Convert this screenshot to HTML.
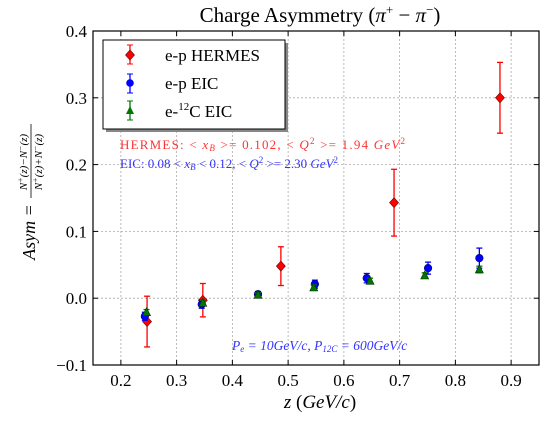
<!DOCTYPE html>
<html><head><meta charset="utf-8"><style>
body{margin:0;background:#fff;width:545px;height:419px;overflow:hidden}
text{font-family:"Liberation Serif",serif}
</style></head><body>
<svg id="c" width="545" height="419" xmlns="http://www.w3.org/2000/svg"></svg>
<script>
const xTicks=[0.2,0.3,0.4,0.5,0.6,0.7,0.8,0.9];
const yTicks=[-0.1,0.0,0.1,0.2,0.3,0.4];
const yTickLabels=["\u22120.1","0.0","0.1","0.2","0.3","0.4"];
const hermesX=[0.247,0.347,0.487,0.69,0.88];
const hermesY=[-0.035,-0.003,0.048,0.143,0.300];
const hermesErr=[0.038,0.025,0.029,0.05,0.053];
const eicX=[0.243,0.345,0.446,0.548,0.641,0.751,0.843];
const eicY=[-0.027,-0.009,0.006,0.021,0.030,0.045,0.060];
const eicErr=[0.006,0.006,0.004,0.006,0.007,0.009,0.015];
const ciX=[0.246,0.347,0.446,0.546,0.647,0.745,0.843];
const ciY=[-0.021,-0.007,0.005,0.016,0.026,0.034,0.043];
const ciErr=[0.004,0.004,0.003,0.004,0.004,0.004,0.005];
const L=93,R=539,T=31,B=365;
const X=v=>L+(v-0.15)/(0.8)*(R-L);
const Y=v=>B-(v+0.1)/0.5*(B-T);
const svg=document.getElementById('c');
const NS="http://www.w3.org/2000/svg";
function mk(tag,attrs,parent){const e=document.createElementNS(NS,tag);for(const k in attrs)e.setAttribute(k,attrs[k]);(parent||svg).appendChild(e);return e;}
xTicks.forEach(v=>{const g=mk('line',{x1:X(v),x2:X(v),y1:T,y2:B,stroke:'#aaa','stroke-dasharray':'2,2','stroke-width':0.8});


mk('line',{x1:X(v),x2:X(v),y1:B,y2:B-5,stroke:'#000'});mk('line',{x1:X(v),x2:X(v),y1:T,y2:T+5,stroke:'#000'});
const t=mk('text',{x:X(v),y:B+21,'text-anchor':'middle','font-size':17});t.textContent=v.toFixed(1);

});
yTicks.forEach((v,i)=>{const g=mk('line',{x1:L,x2:R,y1:Y(v),y2:Y(v),stroke:'#aaa','stroke-dasharray':'2,2','stroke-width':0.8});


mk('line',{x1:L,x2:L+5,y1:Y(v),y2:Y(v),stroke:'#000'});mk('line',{x1:R,x2:R-5,y1:Y(v),y2:Y(v),stroke:'#000'});
const t=mk('text',{x:L-6,y:Y(v)+6,'text-anchor':'end','font-size':17});t.textContent=yTickLabels[i];

});
const fr=mk('rect',{x:L,y:T,width:R-L,height:B-T,fill:'none',stroke:'#000','stroke-width':1.2});


function err(x,y,e,col,name){const g=mk('g',{});
mk('line',{x1:X(x),x2:X(x),y1:Y(y+e),y2:Y(y-e),stroke:col,'stroke-width':1.3},g);
[y+e,y-e].forEach(c=>mk('line',{x1:X(x)-3,x2:X(x)+3,y1:Y(c),y2:Y(c),stroke:col,'stroke-width':1.3},g));return g;}
hermesX.forEach((x,i)=>{const g=err(x,hermesY[i],hermesErr[i],'#f00','hermes-point');const cx=X(x),cy=Y(hermesY[i]);
mk('polygon',{points:`${cx},${cy-5} ${cx+4.5},${cy} ${cx},${cy+5} ${cx-4.5},${cy}`,fill:'#f00',stroke:'#600','stroke-width':0.6},g);});
eicX.forEach((x,i)=>{const g=err(x,eicY[i],eicErr[i],'#00f','eic-point');mk('circle',{cx:X(x),cy:Y(eicY[i]),r:3.8,fill:'#00f',stroke:'#006','stroke-width':0.6},g);});
ciX.forEach((x,i)=>{const g=err(x,ciY[i],ciErr[i],'#070','carbon-point');const cx=X(x),cy=Y(ciY[i]);
mk('polygon',{points:`${cx},${cy-4.5} ${cx+4},${cy+3.5} ${cx-4},${cy+3.5}`,fill:'#070',stroke:'#030','stroke-width':0.6},g);});
</script>
<svg width="545" height="419" style="position:absolute;left:0;top:0" xmlns="http://www.w3.org/2000/svg">
<text x="320" y="22" text-anchor="middle" font-size="21">Charge Asymmetry (<tspan font-style="italic">π</tspan><tspan font-size="13" dy="-8">+</tspan><tspan dy="8"> − </tspan><tspan font-style="italic">π</tspan><tspan font-size="13" dy="-8">−</tspan><tspan dy="8">)</tspan></text>
<g>
<rect x="106" y="43" width="182" height="89" fill="#888"/>
<rect x="103" y="40" width="182" height="89" fill="#fff" stroke="#000" stroke-width="1"/>
<line x1="130" y1="45" x2="130" y2="64" stroke="#f00" stroke-width="1.3"/><line x1="127" y1="45" x2="133" y2="45" stroke="#f00"/><line x1="127" y1="64" x2="133" y2="64" stroke="#f00"/>
<polygon points="130,50 134.5,55 130,60 125.5,55" fill="#f00" stroke="#600" stroke-width="0.6"/>
<text x="165" y="61" font-size="17">e-p HERMES</text>
<line x1="130" y1="74" x2="130" y2="93" stroke="#00f" stroke-width="1.3"/><line x1="127" y1="74" x2="133" y2="74" stroke="#00f"/><line x1="127" y1="93" x2="133" y2="93" stroke="#00f"/>
<circle cx="130" cy="83" r="3.8" fill="#00f"/>
<text x="165" y="89" font-size="17">e-p EIC</text>
<line x1="130" y1="101" x2="130" y2="120" stroke="#070" stroke-width="1.3"/><line x1="127" y1="101" x2="133" y2="101" stroke="#070"/><line x1="127" y1="120" x2="133" y2="120" stroke="#070"/>
<polygon points="130,106 134,114 126,114" fill="#070"/>
<text x="165" y="117" font-size="17">e-<tspan font-size="11" dy="-7">12</tspan><tspan dy="7">C EIC</tspan></text>
</g>
<text x="120" y="149" font-size="13" fill="#f33" textLength="285">HERMES: &lt; <tspan font-style="italic">x<tspan font-size="9" dy="2">B</tspan></tspan><tspan dy="-2"> &gt;= 0.102, &lt; </tspan><tspan font-style="italic">Q</tspan><tspan font-size="9" dy="-5">2</tspan><tspan dy="5"> &gt;= 1.94 </tspan><tspan font-style="italic">GeV</tspan><tspan font-size="9" dy="-5">2</tspan></text>
<text x="120" y="168" font-size="13" fill="#33f">EIC: 0.08 &lt; <tspan font-style="italic">x<tspan font-size="9" dy="2">B</tspan></tspan><tspan dy="-2"> &lt; 0.12, &lt; </tspan><tspan font-style="italic">Q</tspan><tspan font-size="9" dy="-5">2</tspan><tspan dy="5"> &gt;= 2.30 </tspan><tspan font-style="italic">GeV</tspan><tspan font-size="9" dy="-5">2</tspan></text>
<text x="232" y="350" font-size="13.5" fill="#33f" font-style="italic">P<tspan font-size="9" dy="2">e</tspan><tspan dy="-2"> = 10GeV/c, P</tspan><tspan font-size="9" dy="2">12C</tspan><tspan dy="-2"> = 600GeV/c</tspan></text>
<text x="320" y="408" text-anchor="middle" font-size="19"><tspan font-style="italic">z</tspan> (<tspan font-style="italic">GeV/c</tspan>)</text>
<g transform="translate(30,200) rotate(-90)">
<text x="-32" y="5" text-anchor="middle" font-size="18" font-style="italic">Asym =</text>
<text x="38" y="-3" text-anchor="middle" font-size="11" font-style="italic">N<tspan font-size="8" dy="-4">+</tspan><tspan dy="4">(z)−N</tspan><tspan font-size="8" dy="-4">−</tspan><tspan dy="4">(z)</tspan></text>
<line x1="2" x2="76" y1="1" y2="1" stroke="#000" stroke-width="0.8"/>
<text x="38" y="12" text-anchor="middle" font-size="11" font-style="italic">N<tspan font-size="8" dy="-4">+</tspan><tspan dy="4">(z)+N</tspan><tspan font-size="8" dy="-4">−</tspan><tspan dy="4">(z)</tspan></text>
</g>
</svg>
</body></html>
